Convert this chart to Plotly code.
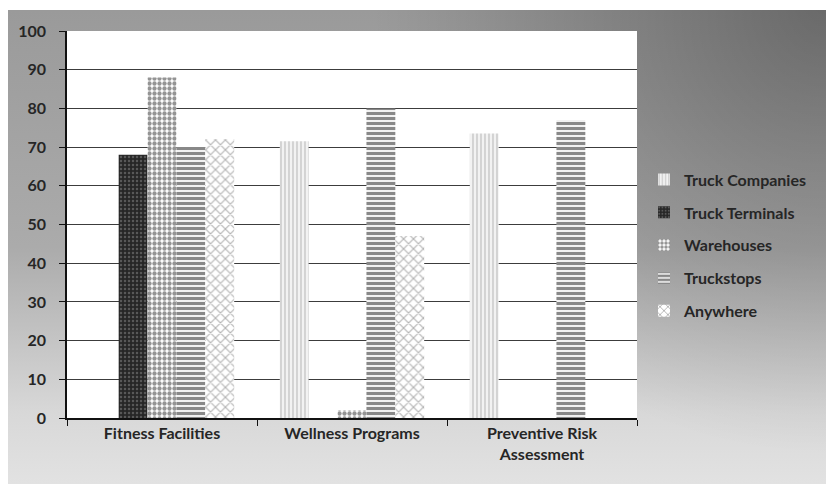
import base64
import plotly.graph_objects as go

categories = ["Fitness Facilities", "Wellness Programs", "Preventive Risk<br>Assessment"]
series_names = ["Truck Companies", "Truck Terminals", "Warehouses", "Truckstops", "Anywhere"]
truck_companies = [None, 71.5, 73.5]
truck_terminals = [68, None, None]
warehouses = [88, 2, None]
truckstops = [70, 80, 77]
anywhere = [72, 47, None]
y_ticks = list(range(0, 101, 10))

values = [truck_companies, truck_terminals, warehouses, truckstops, anywhere]

# monochrome fill patterns, one per series
styles = [
    dict(marker_color="#f2f2f2", pattern=dict(shape="|", fgcolor="#9a9a9a", size=4, solidity=0.35)),
    dict(marker_color="#262626", pattern=dict(shape=".", fgcolor="#8a8a8a", size=4, solidity=0.3)),
    dict(marker_color="#ffffff", pattern=dict(shape=".", fgcolor="#2a2a2a", size=5, solidity=0.6)),
    dict(marker_color="#ffffff", pattern=dict(shape="-", fgcolor="#111111", size=5, solidity=0.65)),
    dict(marker_color="#ffffff", pattern=dict(shape="x", fgcolor="#666666", size=7, solidity=0.3)),
]

fig = go.Figure()
for name, vals, st in zip(series_names, values, styles):
    fig.add_trace(go.Bar(
        x=categories, y=vals, name=name, legendgroup=name,
        marker=dict(color=st["marker_color"], line=dict(width=0),
                    pattern=dict(fillmode="overlay", **st["pattern"])),
    ))

# gray backdrop: light towards the bottom, with a darker shade in the top-right corner
W, H = 826, 484
L, R, T, B = 67, 189, 31, 66
svg = (
    f'<svg xmlns="http://www.w3.org/2000/svg" width="{W}" height="{H}">'
    '<defs>'
    '<linearGradient id="v" x1="0" y1="0" x2="0" y2="1">'
    '<stop offset="0" stop-color="#9a9a9a"/>'
    '<stop offset="0.5" stop-color="#ababab"/>'
    '<stop offset="0.85" stop-color="#d8d8d8"/>'
    '<stop offset="1" stop-color="#e2e2e2"/>'
    '</linearGradient>'
    f'<radialGradient id="c" gradientUnits="userSpaceOnUse" cx="{W}" cy="0" r="{W*0.55:.0f}">'
    '<stop offset="0" stop-color="#000000" stop-opacity="0.32"/>'
    '<stop offset="0.5" stop-color="#000000" stop-opacity="0.15"/>'
    '<stop offset="1" stop-color="#000000" stop-opacity="0"/>'
    '</radialGradient>'
    '</defs>'
    f'<rect x="0" y="0" width="{W}" height="{H}" fill="#ffffff"/>'
    f'<rect x="8" y="10" width="{W-8}" height="{H-10}" fill="url(#v)"/>'
    f'<rect x="8" y="10" width="{W-8}" height="{H-10}" fill="url(#c)"/>'
    '</svg>'
)
src = "data:image/svg+xml;base64," + base64.b64encode(svg.encode()).decode()
pw, ph = W - L - R, H - T - B

label_font = dict(family="Lato", size=16, color="#262626", weight="bold")

fig.update_layout(
    width=W, height=H,
    margin=dict(l=L, r=R, t=T, b=B, pad=0),
    paper_bgcolor="#c8c8c8",
    plot_bgcolor="#ffffff",
    barmode="group",
    bargap=0.24,
    bargroupgap=0,
    font=label_font,
    images=[dict(source=src, xref="paper", yref="paper",
                 x=-L / pw, y=1 + T / ph, sizex=W / pw, sizey=H / ph,
                 xanchor="left", yanchor="top", sizing="stretch", layer="below")],
    shapes=[dict(type="rect", xref="paper", yref="paper", x0=0, x1=1, y0=0, y1=1,
                 fillcolor="#ffffff", line=dict(width=0), layer="below")],
    legend=dict(
        x=(644 - L) / pw, y=0.66, xanchor="left", yanchor="top",
        bgcolor="rgba(0,0,0,0)", tracegroupgap=9,
        font=label_font, itemwidth=30,
    ),
    showlegend=True,
)
fig.update_xaxes(
    showline=True, linecolor="#111111", linewidth=1.5,
    ticks="outside", tickson="boundaries", ticklen=6, tickcolor="#111111",
    tickfont=label_font, showgrid=False,
)
fig.update_yaxes(
    range=[0, 100], tickvals=y_ticks,
    showline=True, linecolor="#111111", linewidth=1.5,
    ticks="outside", ticklen=6, tickcolor="#111111",
    showgrid=True, gridcolor="#3c3c3c", gridwidth=1,
    zeroline=False, tickfont=label_font, ticklabelstandoff=10,
)

fig.write_html("out.html")
